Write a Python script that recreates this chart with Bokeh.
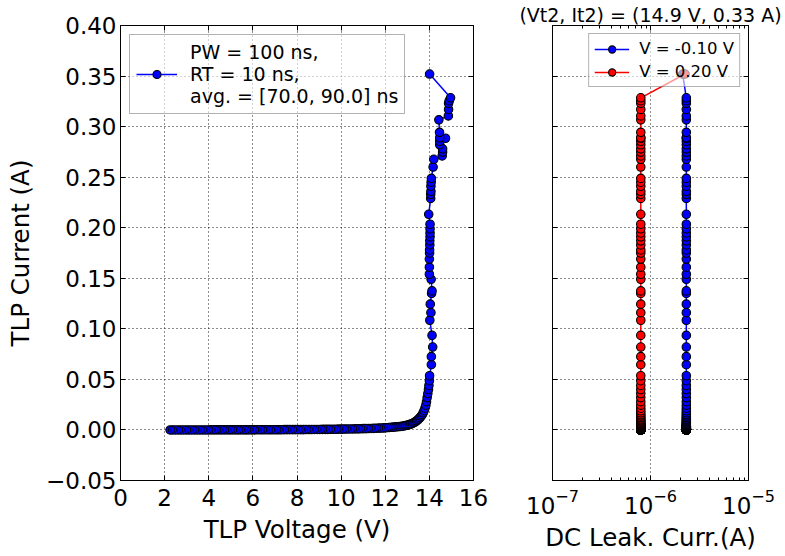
from bokeh.plotting import figure
from bokeh.layouts import row
from bokeh.models import (Range1d, LinearAxis, LogAxis, FixedTicker, LogScale, Grid,
                          CustomJSTickFormatter, LogTickFormatter, Legend, LegendItem)
from bokeh.embed import file_html
from bokeh.resources import INLINE

# ---------------- data ----------------
tlp_voltage = [
    2.25, 2.37, 2.49, 2.62, 2.74, 2.86, 2.99, 3.11, 3.23, 3.36,
    3.48, 3.60, 3.73, 3.85, 3.97, 4.10, 4.22, 4.34, 4.47, 4.59,
    4.71, 4.84, 4.96, 5.08, 5.21, 5.33, 5.45, 5.58, 5.70, 5.82,
    5.95, 6.07, 6.19, 6.32, 6.44, 6.56, 6.69, 6.81, 6.93, 7.06,
    7.18, 7.30, 7.43, 7.55, 7.67, 7.80, 7.92, 8.04, 8.17, 8.29,
    8.41, 8.54, 8.66, 8.78, 8.91, 9.03, 9.15, 9.28, 9.40, 9.52,
    9.65, 9.77, 9.89, 10.02, 10.14, 10.26, 10.39, 10.51, 10.63, 10.76,
    10.88, 11.00, 11.12, 11.24, 11.36, 11.48, 11.60, 11.72, 11.84, 11.95,
    12.06, 12.17, 12.28, 12.38, 12.48, 12.58, 12.67, 12.76, 12.85, 12.93,
    13.01, 13.09, 13.16, 13.23, 13.30, 13.36, 13.42, 13.48, 13.53, 13.58,
    13.63, 13.68, 13.72, 13.76, 13.80, 13.84, 13.87, 13.90, 13.93, 13.96,
    13.98, 14.00, 14.01,
    14.09, 14.09, 14.15, 14.12, 14.02, 14.07, 14.04, 14.10, 14.12, 14.08,
    14.00, 14.00, 14.00, 14.01, 14.01, 14.02, 14.02, 14.03, 14.03, 14.03,
    14.03, 13.97, 14.06, 14.06, 14.07, 14.07, 14.08, 14.09, 14.17, 14.20,
    14.58, 14.60, 14.60, 14.47, 14.47, 14.73, 14.47, 14.46, 14.43, 14.86,
    14.87, 14.87, 14.90, 14.96, 14.01,
]

tlp_current = [
    0.0000, 0.0000, 0.0000, 0.0000, 0.0000, 0.0000, 0.0000, 0.0000, 0.0000, 0.0000,
    0.0000, 0.0000, 0.0000, 0.0000, 0.0000, 0.0001, 0.0001, 0.0001, 0.0001, 0.0001,
    0.0001, 0.0001, 0.0001, 0.0001, 0.0001, 0.0001, 0.0001, 0.0001, 0.0001, 0.0001,
    0.0001, 0.0001, 0.0002, 0.0002, 0.0002, 0.0002, 0.0002, 0.0002, 0.0002, 0.0002,
    0.0002, 0.0002, 0.0003, 0.0003, 0.0003, 0.0003, 0.0003, 0.0003, 0.0003, 0.0003,
    0.0004, 0.0004, 0.0004, 0.0005, 0.0005, 0.0005, 0.0006, 0.0006, 0.0006, 0.0007,
    0.0007, 0.0007, 0.0008, 0.0008, 0.0009, 0.0009, 0.0010, 0.0010, 0.0011, 0.0011,
    0.0012, 0.0013, 0.0013, 0.0014, 0.0015, 0.0016, 0.0017, 0.0018, 0.0019, 0.0020,
    0.0022, 0.0024, 0.0026, 0.0028, 0.0030, 0.0032, 0.0034, 0.0037, 0.0040, 0.0044,
    0.0048, 0.0053, 0.0058, 0.0064, 0.0072, 0.0080, 0.0090, 0.0100, 0.0111, 0.0123,
    0.0137, 0.0152, 0.0170, 0.0190, 0.0215, 0.0245, 0.0280, 0.0320, 0.0360, 0.0400,
    0.0440, 0.0487, 0.0536,
    0.0645, 0.0725, 0.0820, 0.0935, 0.1085, 0.1160, 0.1244, 0.1350, 0.1375, 0.1490,
    0.1540, 0.1610, 0.1690, 0.1750, 0.1780, 0.1830, 0.1870, 0.1910, 0.1948, 0.1990,
    0.2035, 0.2133, 0.2290, 0.2330, 0.2360, 0.2410, 0.2450, 0.2488, 0.2600, 0.2677,
    0.2710, 0.2748, 0.2780, 0.2820, 0.2855, 0.2885, 0.2890, 0.2943, 0.3067, 0.3106,
    0.3170, 0.3230, 0.3256, 0.3285, 0.3520,
]

# DC leakage (uA) measured after each pulse, at V = -0.10 V and V = 0.20 V
leak_neg_uA = [
    2.32, 2.32, 2.32, 2.32, 2.32, 2.32, 2.32, 2.32, 2.32, 2.32, 2.32, 2.32, 2.32, 2.32, 2.32, 2.32, 2.32, 2.32, 2.32, 2.32,
    2.32, 2.32, 2.32, 2.32, 2.32, 2.32, 2.32, 2.32, 2.32, 2.32, 2.32, 2.32, 2.32, 2.32, 2.32, 2.32, 2.32, 2.32, 2.32, 2.32,
    2.32, 2.32, 2.32, 2.32, 2.32, 2.32, 2.32, 2.32, 2.32, 2.32, 2.32, 2.32, 2.32, 2.32, 2.32, 2.32, 2.32, 2.32, 2.32, 2.32,
    2.32, 2.32, 2.32, 2.32, 2.32, 2.32, 2.32, 2.32, 2.32, 2.32, 2.32, 2.32, 2.32, 2.32, 2.32, 2.32, 2.32, 2.32, 2.32, 2.32,
    2.32, 2.32, 2.32, 2.32, 2.32, 2.32, 2.32, 2.32, 2.32, 2.32, 2.32, 2.32, 2.32, 2.32, 2.32, 2.32, 2.32, 2.32, 2.32, 2.32,
    2.32, 2.32, 2.32, 2.32, 2.32, 2.32, 2.32, 2.32, 2.32, 2.32, 2.32, 2.32, 2.32, 2.32, 2.32, 2.32, 2.32, 2.32, 2.32, 2.32,
    2.32, 2.32, 2.32, 2.32, 2.32, 2.32, 2.32, 2.32, 2.32, 2.32, 2.32, 2.32, 2.32, 2.32, 2.32, 2.32, 2.32, 2.32, 2.32, 2.32,
    2.32, 2.32, 2.32, 2.32, 2.32, 2.32, 2.32, 2.32, 2.32, 2.32, 2.32, 2.32, 2.32, 2.32, 2.32, 2.32, 2.32, 2.13,
]
leak_pos_uA = [
    0.796, 0.796, 0.796, 0.796, 0.796, 0.796, 0.796, 0.796, 0.796, 0.796, 0.796, 0.796, 0.796, 0.796, 0.796, 0.796, 0.796, 0.796, 0.796, 0.796,
    0.796, 0.796, 0.796, 0.796, 0.796, 0.796, 0.796, 0.796, 0.796, 0.796, 0.796, 0.796, 0.796, 0.796, 0.796, 0.796, 0.796, 0.796, 0.796, 0.796,
    0.796, 0.796, 0.796, 0.796, 0.796, 0.796, 0.796, 0.796, 0.796, 0.796, 0.796, 0.796, 0.796, 0.796, 0.796, 0.796, 0.796, 0.796, 0.796, 0.796,
    0.796, 0.796, 0.796, 0.796, 0.796, 0.796, 0.796, 0.796, 0.796, 0.796, 0.796, 0.796, 0.796, 0.796, 0.796, 0.796, 0.796, 0.796, 0.796, 0.796,
    0.796, 0.796, 0.796, 0.796, 0.796, 0.796, 0.796, 0.796, 0.796, 0.796, 0.796, 0.796, 0.796, 0.796, 0.796, 0.796, 0.796, 0.796, 0.796, 0.796,
    0.796, 0.796, 0.796, 0.796, 0.796, 0.796, 0.796, 0.796, 0.796, 0.796, 0.796, 0.796, 0.796, 0.796, 0.796, 0.796, 0.796, 0.796, 0.796, 0.796,
    0.796, 0.796, 0.796, 0.796, 0.796, 0.796, 0.796, 0.796, 0.796, 0.796, 0.796, 0.796, 0.796, 0.796, 0.796, 0.796, 0.796, 0.796, 0.796, 0.796,
    0.796, 0.796, 0.796, 0.796, 0.796, 0.796, 0.796, 0.796, 0.796, 0.796, 0.796, 0.796, 0.796, 0.796, 0.796, 0.796, 0.796, 2.25,
]

x_ticks_v = [0, 2, 4, 6, 8, 10, 12, 14, 16]
y_ticks_i = [-0.05, 0.0, 0.05, 0.10, 0.15, 0.20, 0.25, 0.30, 0.35, 0.40]
x_ticks_leak = [1e-7, 1e-6, 1e-5]
x_minor_leak = [2e-7, 3e-7, 4e-7, 5e-7, 6e-7, 7e-7, 8e-7, 9e-7,
                2e-6, 3e-6, 4e-6, 5e-6, 6e-6, 7e-6, 8e-6, 9e-6]

legend_tlp = "PW = 100 ns,\nRT = 10 ns,\navg. = [70.0, 90.0] ns"
legend_neg = "V = -0.10 V"
legend_pos = "V = 0.20 V"
title_text = "(Vt2, It2) = (14.9 V, 0.33 A)"

leak_neg = [v * 1e-6 for v in leak_neg_uA]
leak_pos = [v * 1e-6 for v in leak_pos_uA]
assert len(tlp_voltage) == len(tlp_current) == len(leak_neg) == len(leak_pos)

# ---------------- styling ----------------
FONT = "DejaVu Sans"
TICK_FS = "23px"
LABEL_FS = "24.5px"
BLUE = "#0000ff"
RED = "#ff0000"
H = 554
TOP = 25
BOTTOM = 69

blank_fmt = CustomJSTickFormatter(code="return '';")


def style_axis(ax, labels=True):
    ax.major_tick_in = 5
    ax.major_tick_out = 0
    ax.minor_tick_in = 3
    ax.minor_tick_out = 0
    ax.axis_line_color = "black"
    ax.major_tick_line_color = "black"
    ax.minor_tick_line_color = "black"
    ax.major_label_text_font = FONT
    ax.major_label_text_color = "black"
    ax.major_label_text_font_size = TICK_FS if labels else "1px"
    ax.major_label_standoff = 4 if labels else 0
    ax.axis_label_text_font = FONT
    ax.axis_label_text_font_size = LABEL_FS
    ax.axis_label_text_font_style = "normal"
    ax.axis_label_text_color = "black"
    if not labels:
        ax.formatter = blank_fmt


def add_grid(p, dim, ticker):
    p.add_layout(Grid(dimension=dim, ticker=ticker, grid_line_color="black",
                      grid_line_dash="1 3", grid_line_width=1, grid_line_alpha=0.9))


def style_title(p, text):
    p.title.text = text
    p.title.align = "center"
    p.title.text_font = FONT
    p.title.text_font_size = "19px"
    p.title.text_font_style = "normal"
    p.title.text_color = "black"
    p.title.standoff = 0
    p.title.offset = 0


y_fmt = CustomJSTickFormatter(code="""
if (Math.abs(tick) < 1e-9) { return "0.00"; }
return (tick < 0 ? "\\u2212" : "") + Math.abs(tick).toFixed(2);
""")

y_range = Range1d(-0.05, 0.40)

# ---------------- left: TLP I-V ----------------
p1 = figure(width=513, height=H, x_range=Range1d(0, 16), y_range=y_range,
            x_axis_type=None, y_axis_type=None, output_backend="svg",
            toolbar_location=None, min_border_left=120, min_border_right=40,
            min_border_top=TOP, min_border_bottom=BOTTOM)
p1.outline_line_color = "black"
style_title(p1, " ")
xt1 = FixedTicker(ticks=x_ticks_v)
yt = FixedTicker(ticks=y_ticks_i)

ax = LinearAxis(ticker=xt1, axis_label="TLP Voltage (V)")
style_axis(ax); ax.minor_tick_line_color = None
ax.major_label_standoff = 8; ax.axis_label_standoff = 6
p1.add_layout(ax, "below")
ax = LinearAxis(ticker=yt, formatter=y_fmt, axis_label="TLP Current (A)")
style_axis(ax); ax.minor_tick_line_color = None; ax.axis_label_standoff = 8
p1.add_layout(ax, "left")
ax = LinearAxis(ticker=xt1)
style_axis(ax, labels=False); ax.minor_tick_line_color = None
p1.add_layout(ax, "above")
ax = LinearAxis(ticker=yt)
style_axis(ax, labels=False); ax.minor_tick_line_color = None
p1.add_layout(ax, "right")
add_grid(p1, 0, xt1)
add_grid(p1, 1, yt)

l1 = p1.line(tlp_voltage, tlp_current, line_color=BLUE, line_width=1.5)
s1 = p1.scatter(tlp_voltage, tlp_current, marker="circle", size=8.5,
                fill_color=BLUE, line_color="black", line_width=1.1)
leg1 = Legend(items=[LegendItem(label=legend_tlp, renderers=[l1, s1])],
              location="top_left", margin=9, padding=6, spacing=0,
              glyph_width=41, glyph_height=20, label_standoff=13,
              label_text_font=FONT, label_text_font_size="19px",
              label_text_color="black",
              border_line_color="black", border_line_alpha=0.3,
              background_fill_color="white", background_fill_alpha=0.6)
p1.add_layout(leg1)

# ---------------- right: DC leakage ----------------
p2 = figure(width=270, height=H, x_range=Range1d(1e-7, 1e-5), y_range=y_range,
            x_axis_type=None, y_axis_type=None, output_backend="svg",
            toolbar_location=None, min_border_left=39, min_border_right=35,
            min_border_top=TOP, min_border_bottom=BOTTOM)
p2.x_scale = LogScale()
p2.outline_line_color = "black"
style_title(p2, title_text)
xt2 = FixedTicker(ticks=x_ticks_leak, minor_ticks=x_minor_leak)

ax = LogAxis(ticker=xt2, formatter=LogTickFormatter(), axis_label="DC Leak. Curr.(A)")
style_axis(ax)
ax.major_label_standoff = 8; ax.axis_label_standoff = 6
p2.add_layout(ax, "below")
ax = LinearAxis(ticker=xt2)
style_axis(ax, labels=False)
p2.add_layout(ax, "above")
ax = LinearAxis(ticker=yt)
style_axis(ax, labels=False); ax.minor_tick_line_color = None
p2.add_layout(ax, "left")
ax = LinearAxis(ticker=yt)
style_axis(ax, labels=False); ax.minor_tick_line_color = None
p2.add_layout(ax, "right")
add_grid(p2, 0, FixedTicker(ticks=x_ticks_leak))
add_grid(p2, 1, yt)

l2 = p2.line(leak_neg, tlp_current, line_color=BLUE, line_width=1.5)
s2 = p2.scatter(leak_neg, tlp_current, marker="circle", size=8.5,
                fill_color=BLUE, line_color="black", line_width=1.1)
l3 = p2.line(leak_pos, tlp_current, line_color=RED, line_width=1.5)
s3 = p2.scatter(leak_pos, tlp_current, marker="circle", size=8.5,
                fill_color=RED, line_color="black", line_width=1.1)
leg2 = Legend(items=[LegendItem(label=legend_neg, renderers=[l2, s2]),
                     LegendItem(label=legend_pos, renderers=[l3, s3])],
              location="top_right", margin=8, padding=5, spacing=4,
              glyph_width=35, glyph_height=18, label_standoff=10,
              label_text_font=FONT, label_text_font_size="16.5px",
              label_text_color="black",
              border_line_color="black", border_line_alpha=0.3,
              background_fill_color="white", background_fill_alpha=0.6)
p2.add_layout(leg2)

layout = row(p1, p2)
open("out.html", "w").write(file_html(layout, INLINE))
